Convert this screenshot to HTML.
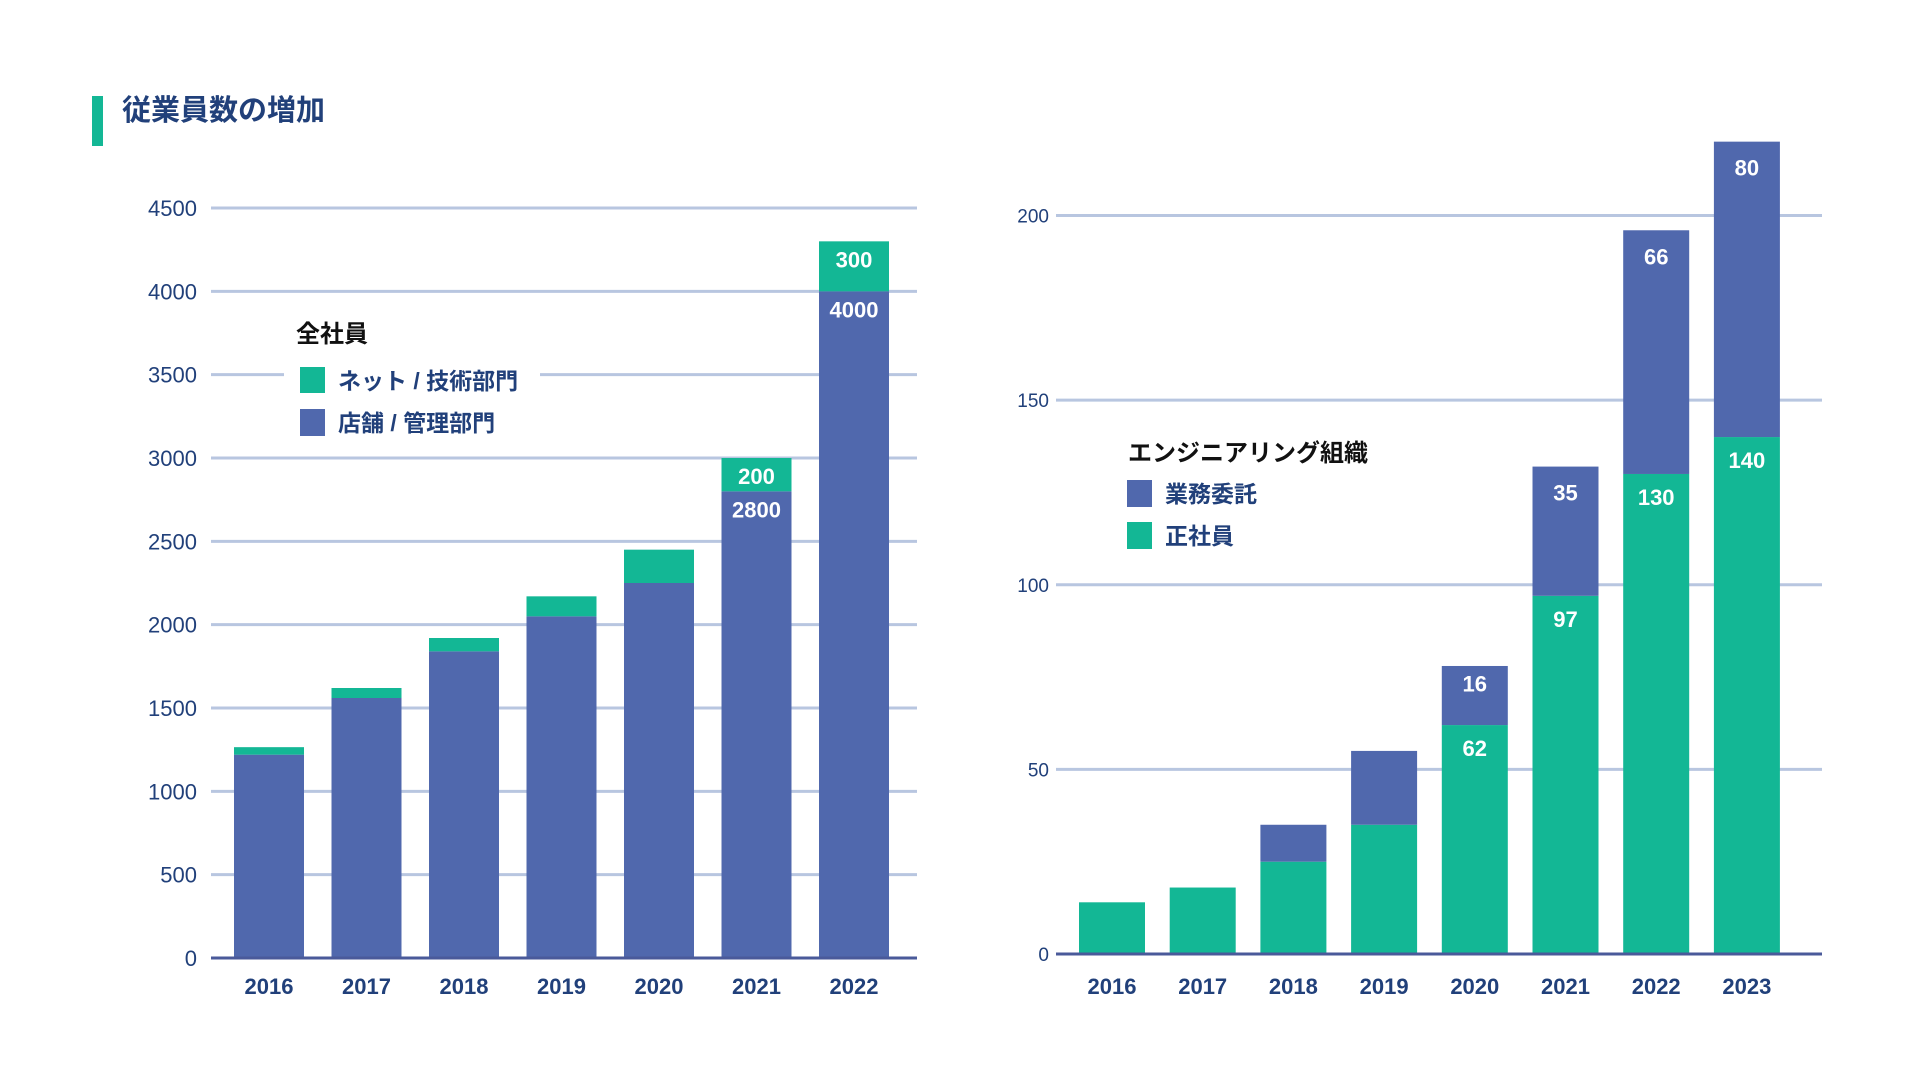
<!DOCTYPE html>
<html><head><meta charset="utf-8"><style>
html,body{margin:0;padding:0;background:#fff;}
svg{display:block;font-family:"Liberation Sans","Noto Sans CJK JP",sans-serif;}
</style></head><body>
<svg id="c" width="1920" height="1080" viewBox="0 0 1920 1080">
<rect x="92" y="96" width="11" height="50" fill="#13b795"/>
<text x="122" y="120" font-size="29" font-weight="bold" fill="#21407a">従業員数の増加</text>
<g id="L"></g>
<g id="R"></g>
</svg>
<script>
const leftYears=["2016","2017","2018","2019","2020","2021","2022"];
const leftStore=[1220,1560,1840,2050,2250,2800,4000];
const leftNet=[45,60,80,120,200,200,300];
const leftTicks=[0,500,1000,1500,2000,2500,3000,3500,4000,4500];
const rightYears=["2016","2017","2018","2019","2020","2021","2022","2023"];
const rightFull=[14,18,25,35,62,97,130,140];
const rightContract=[0,0,10,20,16,35,66,80];
const rightTicks=[0,50,100,150,200];
const leftShowLabels=[false,false,false,false,false,true,true];
const rightShowLabels=[false,false,false,false,true,true,true,true];

const NS="http://www.w3.org/2000/svg";
const BLUE="#5068ad",GREEN="#13b795",GRID="#b8c6e0",NAVY="#21407a";
function mk(p,tag,a,txt){const e=document.createElementNS(NS,tag);for(const k in a)e.setAttribute(k,a[k]);if(txt!==undefined)e.textContent=txt;p.appendChild(e);return e;}

// left chart
(function(){
const g=document.getElementById('L');
const x0=211,x1=917,yb=958,yt=208,max=4500;
const y=v=>yb-(v/max)*(yb-yt);
const xc=i=>269+i*97.5;const bw=70;
leftTicks.forEach(t=>{
 if(t>0){const l=mk(g,'line',{x1:x0,x2:x1,y1:y(t),y2:y(t),stroke:GRID,'stroke-width':3});
 
 }
 const tx=mk(g,'text',{x:197,y:y(t)+8,'text-anchor':'end','font-size':22,fill:NAVY},String(t));
 
 
});
const bg=mk(g,'rect',{x:284,y:360,width:256,height:90,fill:'#fff'});


leftYears.forEach((yr,i)=>{
 const s=leftStore[i],n=leftNet[i];
 const b=mk(g,'rect',{x:xc(i)-bw/2,y:y(s),width:bw,height:y(0)-y(s),fill:BLUE});
 
 
 const gr=mk(g,'rect',{x:xc(i)-bw/2,y:y(s+n),width:bw,height:y(s)-y(s+n),fill:GREEN});
 
 
 if(leftShowLabels[i]){
  const a=mk(g,'text',{x:xc(i),y:y(s+n)+26,'text-anchor':'middle','font-size':22,fill:'#fff','font-weight':'bold'},String(n));
  
  
  const c=mk(g,'text',{x:xc(i),y:y(s)+26,'text-anchor':'middle','font-size':22,fill:'#fff','font-weight':'bold'},String(s));
  
  
 }
 const t=mk(g,'text',{x:xc(i),y:994,'text-anchor':'middle','font-size':22,'font-weight':'bold',fill:NAVY},yr);
 
 
});
const ax=mk(g,'line',{x1:x0,x2:x1,y1:yb,y2:yb,stroke:'#4a5a9a','stroke-width':3});


const lt=mk(g,'text',{x:296,y:342,'font-size':24,'font-weight':'bold',fill:'#111'},'全社員');


const s1=mk(g,'rect',{x:300,y:367,width:25,height:26,fill:GREEN});


const t1=mk(g,'text',{x:338,y:389,'font-size':23,'font-weight':'bold',fill:NAVY},'ネット / 技術部門');


const s2=mk(g,'rect',{x:300,y:409,width:25,height:27,fill:BLUE});


const t2=mk(g,'text',{x:338,y:431,'font-size':23,'font-weight':'bold',fill:NAVY},'店舗 / 管理部門');


})();

// right chart
(function(){
const g=document.getElementById('R');
const x0=1056,x1=1822,yb=954,yt=215.5,max=200;
const y=v=>yb-(v/max)*(yb-yt);
const xc=i=>1112+i*90.7;const bw=66;
rightTicks.forEach(t=>{
 if(t>0){const l=mk(g,'line',{x1:x0,x2:x1,y1:y(t),y2:y(t),stroke:GRID,'stroke-width':3});
 
 }
 const tx=mk(g,'text',{x:1049,y:y(t)+7,'text-anchor':'end','font-size':19,fill:NAVY},String(t));
 
 
});
rightYears.forEach((yr,i)=>{
 const f=rightFull[i],c=rightContract[i];
 const b=mk(g,'rect',{x:xc(i)-bw/2,y:y(f),width:bw,height:y(0)-y(f),fill:GREEN});
 
 
 if(c>0){const r=mk(g,'rect',{x:xc(i)-bw/2,y:y(f+c),width:bw,height:y(f)-y(f+c),fill:BLUE});
 
 }
 if(rightShowLabels[i]){
  const a=mk(g,'text',{x:xc(i),y:y(f+c)+Math.min(34,(y(f)-y(f+c))/2-4),'text-anchor':'middle','font-size':22,fill:'#fff','font-weight':'bold'},String(c));
  
  
  const d=mk(g,'text',{x:xc(i),y:y(f)+31,'text-anchor':'middle','font-size':22,fill:'#fff','font-weight':'bold'},String(f));
  
  
 }
 const t=mk(g,'text',{x:xc(i),y:994,'text-anchor':'middle','font-size':22,'font-weight':'bold',fill:NAVY},yr);
 
 
});
const ax=mk(g,'line',{x1:x0,x2:x1,y1:yb,y2:yb,stroke:'#4a5a9a','stroke-width':3});


const lt=mk(g,'text',{x:1128,y:461,'font-size':24,'font-weight':'bold',fill:'#111'},'エンジニアリング組織');


const s1=mk(g,'rect',{x:1127,y:480,width:25,height:27,fill:BLUE});


const t1=mk(g,'text',{x:1165,y:502,'font-size':23,'font-weight':'bold',fill:NAVY},'業務委託');


const s2=mk(g,'rect',{x:1127,y:522,width:25,height:27,fill:GREEN});


const t2=mk(g,'text',{x:1165,y:544,'font-size':23,'font-weight':'bold',fill:NAVY},'正社員');


})();
</script>
</body></html>
